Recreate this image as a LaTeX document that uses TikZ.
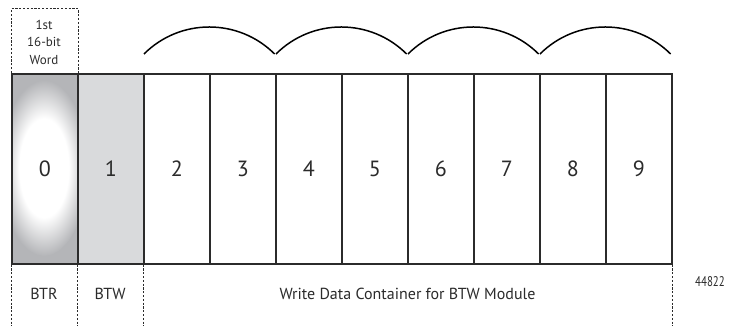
\documentclass[tikz,border=0pt]{standalone}
\usepackage{fontspec}
\setmainfont{PT Sans}
\usetikzlibrary{calc}
\definecolor{lineg}{HTML}{2B2B2B}
\definecolor{cellA}{HTML}{B4B5B8}
\definecolor{cellB}{HTML}{D9DADC}
\pgfdeclareradialshading{cellglow}{\pgfpoint{0bp}{0bp}}{color(0bp)=(white); color(14bp)=(white); color(25bp)=(cellA); color(50bp)=(cellA)}
\begin{document}
\begin{tikzpicture}[x=1pt,y=-1pt,
  cell/.style={draw=lineg, line width=1.6pt, minimum width=66pt, minimum height=190pt, inner sep=0pt, anchor=north west, font=\fontsize{22}{26}\selectfont, text=lineg},
  guide/.style={draw=lineg, line width=1pt, dash pattern=on 2.2pt off 1.6pt},
  span/.style={draw=black, line width=1.5pt},
  lab/.style={font=\fontsize{16}{19}\selectfont, text=lineg}]
\useasboundingbox (0,0) rectangle (743,326);
% shaded first cell
\fill[cellA] (11,73) rectangle (77,263);
\begin{scope}
  \clip (11,73) rectangle (77,263);
  \shade[shading=cellglow] (44,168) ellipse [x radius=44, y radius=88];
\end{scope}
\fill[cellB] (77,73) rectangle (143,263);
% cells
\foreach \i in {0,...,9}
  \node[cell] (c\i) at ({11+66*\i},73) {\i};
% top dashed box
\node[align=center, font=\fontsize{13}{17.5}\selectfont, text=lineg] (first) at (44,42) {1st\\16-bit\\Word};
\draw[guide] (c0.north west) -- ++(0,-64) -| (c0.north east);
% bottom dashed guides
\foreach \n in {c0.south west, c1.south west, c2.south west, c9.south east}
  \draw[guide] (\n) -- ++(0,64);
% labels
\node[lab] (btr) at (44,294) {BTR};
\node[lab] (btw) at (110,294) {BTW};
\node[lab] (wdc) at (407.5,294) {Write Data Container for BTW Module};
\node[font=\fontsize{14}{16}\selectfont, text=lineg] (fig) at (710,282) {\scalebox{0.78}[1]{44822}};
% arcs
\foreach \a/\b in {2/3,4/5,6/7,8/9}{
  \coordinate (s\a) at ($(c\a.north west)+(1,-19)$);
  \coordinate (e\b) at ($(c\b.north east)+(-2,-19)$);
  \draw[span] (s\a) to[bend left=45] (e\b);
}
\end{tikzpicture}
\end{document}
